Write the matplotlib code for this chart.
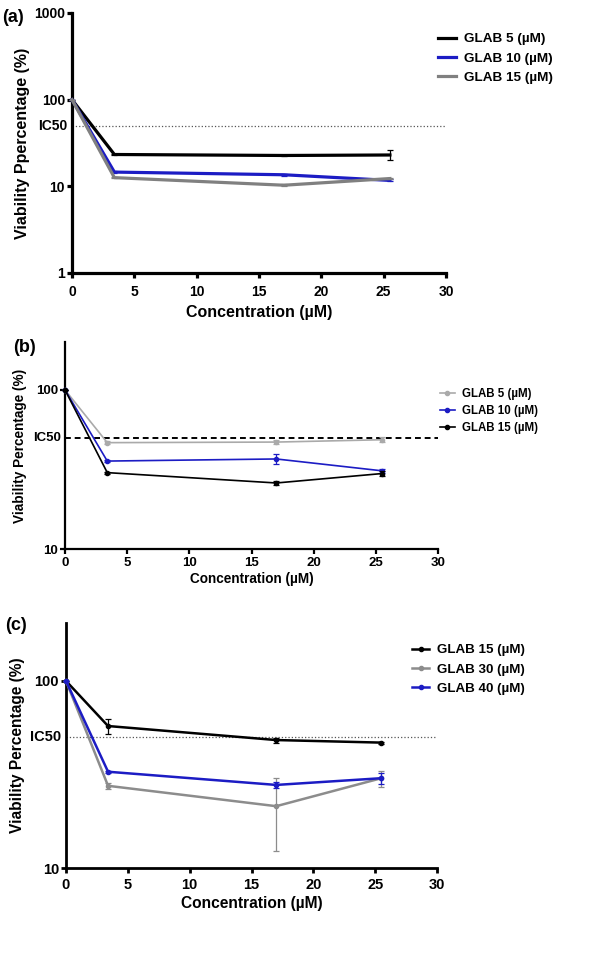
import numpy as np
import matplotlib
matplotlib.use("Agg")
import matplotlib.pyplot as plt
from matplotlib.ticker import NullLocator, FixedLocator, FixedFormatter

plt.rcParams['font.family'] = ['Liberation Sans', 'DejaVu Sans']
plt.rcParams['font.weight'] = 'bold'

# concentrations (uM)
conc = [0, 3.4, 17, 25.5]

# panel (a)
a_labels = ["GLAB 5 (µM)", "GLAB 10 (µM)", "GLAB 15 (µM)"]
a_vals = [[100, 23.3, 22.7, 23.0],
          [100, 14.6, 13.6, 11.7],
          [100, 12.6, 10.3, 12.3]]
a_err = [[0, 0.4, 0.4, 3.0],
         [0, 0.3, 0.3, 0.3],
         [0, 0.2, 0.2, 0.3]]

# panel (b)
b_labels = ["GLAB 5 (µM)", "GLAB 10 (µM)", "GLAB 15 (µM)"]
b_vals = [[100, 46.6, 47.0, 48.6],
          [100, 35.7, 36.8, 31.0],
          [100, 30.2, 26.0, 29.8]]
b_err = [[0, 0.8, 1.5, 1.8],
         [0, 0.5, 2.8, 1.0],
         [0, 0.4, 0.6, 1.2]]

# panel (c)
c_labels = ["GLAB 15 (µM)", "GLAB 30 (µM)", "GLAB 40 (µM)"]
c_vals = [[100, 57.4, 48.3, 46.8],
          [100, 27.5, 21.4, 30.2],
          [100, 32.7, 27.8, 30.2]]
c_err = [[0, 5.5, 1.5, 0.6],
         [0, 1.0, 9.0, 3.0],
         [0, 0.5, 1.0, 2.0]]

ic50 = 50
xticks = [0, 5, 10, 15, 20, 25, 30]

fig = plt.figure(figsize=(6.07, 9.61), dpi=100)


def panel(rect, vals, errs, labels, colors, ylim, yticks, lw, spine_w,
          ic_style, fs_tick, fs_lab, fs_leg, leg_pos, leg_space, ylabel,
          tag, tag_pos, xlab_y, ylab_x, ic50_lw, ic50_color, marker, xpad):
    ax = fig.add_axes(rect)
    for v, e, lab, col in zip(vals, errs, labels, colors):
        ax.plot(conc, v, color=col, lw=lw, marker=marker, ms=3,
                label=lab, clip_on=False, zorder=3)
        ax.errorbar(conc, v, yerr=e, fmt='none', ecolor=col, capsize=2.5,
                    elinewidth=0.9, capthick=0.9, clip_on=False, zorder=3)
    ax.axhline(ic50, color=ic50_color, ls=ic_style, lw=ic50_lw, zorder=2)
    ax.set_yscale('log')
    ax.set_xlim(0, 30)
    ax.set_ylim(*ylim)
    ax.xaxis.set_major_locator(FixedLocator(xticks))
    ax.yaxis.set_major_locator(FixedLocator(yticks))
    ax.yaxis.set_major_formatter(FixedFormatter([str(t) for t in yticks]))
    ax.yaxis.set_minor_locator(NullLocator())
    ax.xaxis.set_minor_locator(NullLocator())
    for s in ['top', 'right']:
        ax.spines[s].set_visible(False)
    for s in ['left', 'bottom']:
        ax.spines[s].set_linewidth(spine_w)
    ax.tick_params(width=spine_w, length=3.5, pad=1.5, labelsize=fs_tick)
    ax.tick_params(axis='x', pad=xpad)
    for t in ax.get_xticklabels() + ax.get_yticklabels():
        t.set_fontweight('bold')
    ax.text(-0.012, ic50, "IC50", transform=ax.get_yaxis_transform(),
            ha='right', va='center', fontsize=fs_tick, fontweight='bold')
    ax.set_xlabel("Concentration (µM)", fontsize=fs_lab, fontweight='bold')
    ax.xaxis.set_label_coords(0.5, xlab_y)
    ax.set_ylabel(ylabel, fontsize=fs_lab, fontweight='bold')
    ax.yaxis.set_label_coords(ylab_x, 0.5)
    leg = ax.legend(loc='upper left', bbox_to_anchor=leg_pos,
                    bbox_transform=fig.transFigure, frameon=False,
                    fontsize=fs_leg, handlelength=1.3, handletextpad=0.6,
                    labelspacing=leg_space, borderpad=0, borderaxespad=0)
    for t in leg.get_texts():
        t.set_fontweight('bold')
    fig.text(tag_pos[0], tag_pos[1], tag, fontsize=13, fontweight='bold',
             ha='left', va='center')
    return ax


panel([72 / 607, 1 - 273 / 961, 374 / 607, 260 / 961],
      a_vals, a_err, a_labels, ['#000000', '#1c1cc4', '#808080'],
      (1, 1000), [1, 10, 100, 1000], 2.3, 2.3, ':', 10, 11.5, 9.7,
      (438 / 607, 1 - 33 / 961), 0.5, "Viability Ppercentage (%)", "(a)",
      (2 / 607, 1 - 17 / 961), -0.123, -0.112, 0.9, '#555555', None, 5)

panel([65 / 607, 1 - 549 / 961, 373 / 607, 207 / 961],
      b_vals, b_err, b_labels, ['#aaaaaa', '#1c1cc4', '#000000'],
      (10, 200), [10, 100], 1.2, 1.6, (0, (3, 2)), 9.5, 9.8, 8.3,
      (440 / 607, 1 - 388 / 961), 0.45, "Viability Percentage (%)", "(b)",
      (13 / 607, 1 - 348 / 961), -0.11, -0.102, 1.4, '#000000', 'o', 2)

panel([66 / 607, 1 - 868 / 961, 371 / 607, 245 / 961],
      c_vals, c_err, c_labels, ['#000000', '#8c8c8c', '#1c1cc4'],
      (10, 204), [10, 100], 1.8, 2.0, ':', 10.5, 11.2, 9.6,
      (412 / 607, 1 - 644 / 961), 0.52, "Viability Percentage (%)", "(c)",
      (5 / 607, 1 - 626 / 961), -0.115, -0.11, 0.9, '#555555', 'o', 4)

fig.savefig("out.png", dpi=100)
